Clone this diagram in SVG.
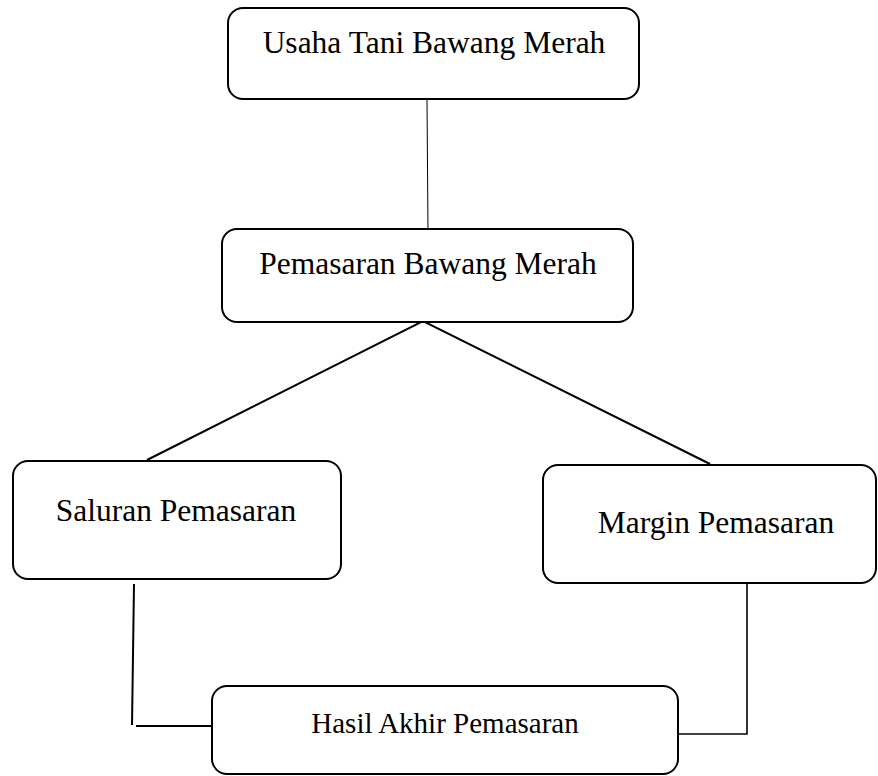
<svg xmlns="http://www.w3.org/2000/svg" width="878" height="776" viewBox="0 0 878 776">
<style>
.box{fill:#fff;stroke:#000;stroke-width:2}
.t{font-family:"Liberation Serif","Times New Roman",serif;font-size:31.5px;fill:#000;text-anchor:middle}
.c{stroke:#000;stroke-width:2;fill:none}
</style>
<rect width="878" height="776" fill="#fff"/>
<g id="connectors">
<line class="c" x1="427" y1="99" x2="428" y2="234" style="stroke-width:1"/>
<polyline class="c" points="147,460 423,321 710,464"/>
<polyline class="c" points="134,584 132,725"/>
<line class="c" x1="136" y1="726" x2="212" y2="726"/>
<polyline class="c" points="747,584 747,734 678,734" style="stroke-width:1.6"/>
</g>
<g id="n1">
<rect class="box" x="228" y="8" width="411" height="91" rx="15"/>
<text class="t" x="434" y="53">Usaha Tani Bawang Merah</text>
</g>
<g id="n2">
<rect class="box" x="222" y="229" width="411" height="93" rx="15"/>
<text class="t" x="428" y="274">Pemasaran Bawang Merah</text>
</g>
<g id="n3">
<rect class="box" x="13" y="461" width="328" height="118" rx="15"/>
<text class="t" x="176" y="521">Saluran Pemasaran</text>
</g>
<g id="n4">
<rect class="box" x="543" y="465" width="333" height="118" rx="15"/>
<text class="t" x="716" y="533">Margin Pemasaran</text>
</g>
<g id="n5">
<rect class="box" x="212" y="686" width="466" height="88" rx="15"/>
<text class="t" x="445" y="733" style="font-size:29px">Hasil Akhir Pemasaran</text>
</g>
</svg>
